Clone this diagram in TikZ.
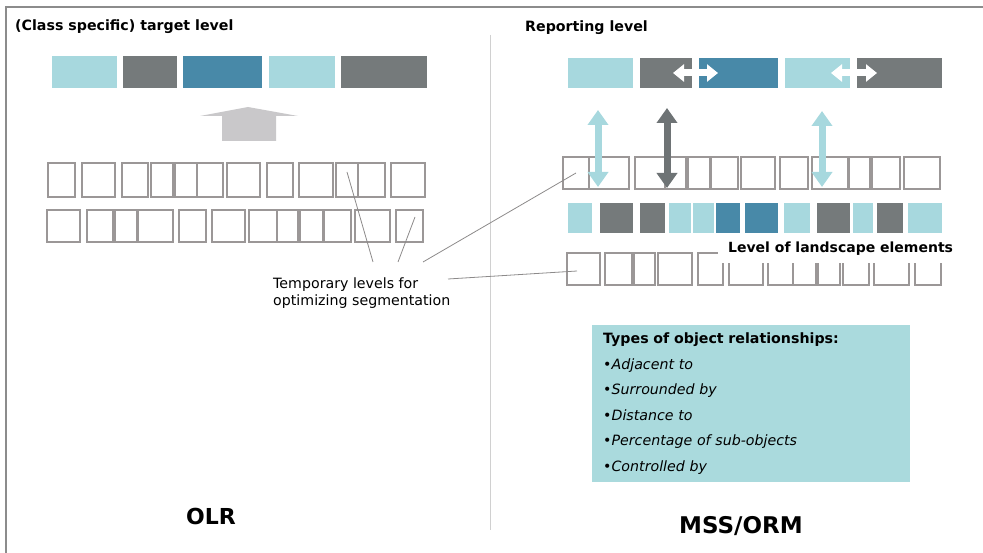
\documentclass[tikz,border=0pt]{standalone}
\usepackage{fontspec}
\setmainfont{DejaVu Sans}
\usepackage{tikz}
\usetikzlibrary{arrows.meta}

\definecolor{cyanl}{RGB}{167,216,222}
\definecolor{grayd}{RGB}{117,122,123}
\definecolor{bluem}{RGB}{72,137,168}
\definecolor{infocyan}{RGB}{170,218,221}
\definecolor{arrowdark}{RGB}{110,115,117}
\definecolor{boxline}{RGB}{155,151,151}
\definecolor{upgray}{RGB}{201,200,202}
\definecolor{calloutgray}{RGB}{140,138,138}
\definecolor{framegray}{RGB}{140,140,140}
\definecolor{divgray}{RGB}{208,208,208}

\begin{document}
\begin{tikzpicture}[
    x=1pt, y=-1pt,
    cell/.style={rectangle, inner sep=0pt, outer sep=0pt},
    openbox/.style={cell, draw=boxline, line width=1.2pt},
    headline/.style={anchor=base west, inner sep=0pt, font=\bfseries\fontsize{14.2}{17}\selectfont},
    callout/.style={draw=calloutgray, line width=0.8pt},
    vlink/.style={line width=7pt, {Triangle[width=20pt,length=15pt]}-{Triangle[width=20pt,length=15pt]}},
    hlink/.style={draw=white, line width=7pt, {Triangle[width=17pt,length=11pt]}-{Triangle[width=17pt,length=11pt]}}
]
\useasboundingbox (0,0) rectangle (983,553);

\draw[framegray, line width=2pt] (6,553) -- (6,7) -- (983,7);
\draw[divgray, line width=1pt] (490,35) -- (490,530);

\node[headline] (tgttitle) at (15,31) {(Class specific) target level};
\node[headline] (reptitle) at (525,32) {Reporting level};

\foreach \a/\b/\c [count=\i] in {52/117/cyanl, 123/177/grayd, 183/262/bluem, 269/335/cyanl, 341/427/grayd}
  \node[cell, fill=\c, minimum width=\b-\a, minimum height=32] (tgt-\i) at ({(\a+\b)/2},72) {};

\fill[upgray] (222,141) -- (222,116) -- (200,116) -- (248,107) -- (298,116) -- (276,116) -- (276,141) -- cycle;

\foreach \a/\b [count=\i] in {48/75, 82/115, 122/148, 151/173, 175/197, 197/223, 227/260, 267/293, 299/333, 336/358, 358/385, 391/425}
  \node[openbox, minimum width=\b-\a, minimum height=34] (tmpa-\i) at ({(\a+\b)/2},180) {};
\foreach \a/\b [count=\i] in {47/80, 87/113, 115/137, 138/173, 179/206, 212/245, 249/277, 277/298, 300/323, 324/351, 355/390, 396/423}
  \node[openbox, minimum width=\b-\a, minimum height=32] (tmpb-\i) at ({(\a+\b)/2},226) {};

\foreach \a/\b/\c [count=\i] in {568/633/cyanl, 640/692/grayd, 699/778/bluem, 785/850/cyanl, 857/942/grayd}
  \node[cell, fill=\c, minimum width=\b-\a, minimum height=30] (rep-\i) at ({(\a+\b)/2},73) {};

\foreach \a/\b [count=\i] in {563/589, 589/629, 635/665, 665/686, 688/710, 711/738, 741/775, 780/808, 812/848, 849/870, 872/900, 904/940}
  \node[openbox, minimum width=\b-\a, minimum height=32] (rela-\i) at ({(\a+\b)/2},173) {};

\foreach \a/\b/\c [count=\i] in {568/592/cyanl, 600/633/grayd, 640/665/grayd, 669/691/cyanl, 693/714/cyanl, 716/740/bluem, 745/778/bluem, 784/810/cyanl, 817/850/grayd, 853/873/cyanl, 877/903/grayd, 908/942/cyanl}
  \node[cell, fill=\c, minimum width=\b-\a, minimum height=30] (land-\i) at ({(\a+\b)/2},218) {};

\foreach \a/\b [count=\i] in {567/600, 605/632, 634/655, 658/692, 698/723, 729/763, 768/793, 793/816, 818/840, 843/869, 874/909, 915/941}
  \node[openbox, minimum width=\b-\a, minimum height=32] (relb-\i) at ({(\a+\b)/2},269) {};

\draw[hlink] ([xshift=-19pt]rep-2.east) -- ([xshift=19pt]rep-3.west);
\draw[hlink] ([xshift=-19pt]rep-4.east) -- ([xshift=20pt]rep-5.west);

\coordinate (up1) at (598,110);
\coordinate (dn1) at (598,187);
\coordinate (up2) at (667,108);
\coordinate (dn2) at (667,188);
\coordinate (up3) at (822,111);
\coordinate (dn3) at (822,187);
\draw[vlink, cyanl] (up1) -- (dn1);
\draw[vlink, arrowdark] (up2) -- (dn2);
\draw[vlink, cyanl] (up3) -- (dn3);

\node[anchor=base west, fill=white, inner xsep=10pt, inner ysep=3pt, text depth=7pt, font=\bfseries\fontsize{14}{16}\selectfont] (landlbl) at (718,253) {Level of landscape elements};

\node[anchor=north west, inner sep=0pt, align=left, font=\fontsize{14.2}{17}\selectfont] (tmptxt) at (273,278) {Temporary levels for\\optimizing segmentation};
\coordinate (c1) at (373,262);
\coordinate (c2) at (398,262);
\coordinate (c3) at (423,262);
\coordinate (c4) at (448,279);
\draw[callout] (c1) -- ([yshift=8pt]tmpa-10.center);
\draw[callout] (c2) -- ([xshift=5.5pt, yshift=9pt]tmpb-12.center);
\draw[callout] (c3) -- (rela-1.center);
\draw[callout] (c4) -- ([xshift=-6.5pt, yshift=-2pt]relb-1.center);

\node[anchor=north west, fill=infocyan, minimum width=318, minimum height=157, inner xsep=11pt, text width=296, align=left, font=\fontsize{14.2}{25.5}\selectfont] (relbox) at (592,325)
  {\textbf{Types of object relationships:}\\•\textit{Adjacent to}\\•\textit{Surrounded by}\\•\textit{Distance to}\\•\textit{Percentage of sub-objects}\\•\textit{Controlled by}};

\node[anchor=base, inner sep=0pt, font=\bfseries\fontsize{22}{26}\selectfont] (olr) at (211,524) {OLR};
\node[anchor=base, inner sep=0pt, font=\bfseries\fontsize{23}{27}\selectfont] (mss) at (741,533) {MSS/ORM};
\end{tikzpicture}
\end{document}
